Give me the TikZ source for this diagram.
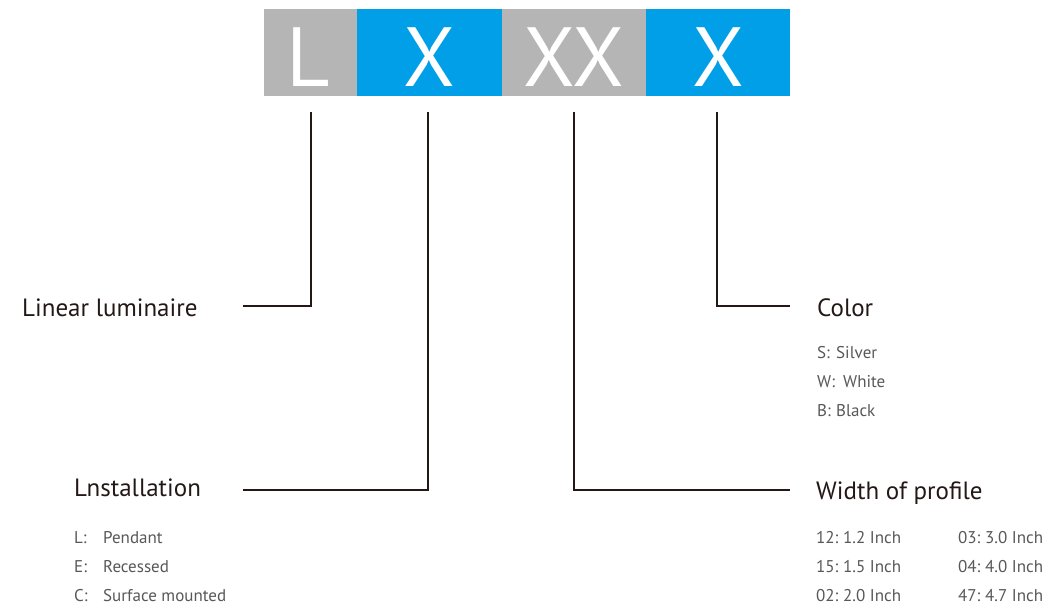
\documentclass[tikz,border=0pt]{standalone}
\usepackage{fontspec}
\setmainfont{PT Sans}
\definecolor{boxgray}{HTML}{B5B5B6}
\definecolor{boxblue}{HTML}{009FE8}
\definecolor{leaddark}{HTML}{231815}
\definecolor{itemgray}{HTML}{595757}
\newcommand{\itm}[3]{\makebox[#1][l]{#2}#3}
\begin{document}
\begin{tikzpicture}[x=1pt, y=-1pt,
  letter/.style={anchor=base, text=white, inner sep=0pt, font=\fontsize{84}{84}\selectfont},
  head/.style={anchor=base west, inner sep=0pt, text=leaddark, font=\fontsize{25}{30}\selectfont},
  item/.style={anchor=base west, inner sep=0pt, text=itemgray, font=\fontsize{17}{20}\selectfont},
  lead/.style={draw=leaddark, line width=1.8pt}]
\useasboundingbox (0,0) rectangle (1051,610);

% code boxes
\fill [boxgray] (264,9) rectangle (357,96);
\fill [boxblue] (357,9) rectangle (502,96);
\fill [boxgray] (502,9) rectangle (646,96);
\fill [boxblue] (646,9) rectangle (790,96);

\node [letter] (k1) at (308,86) {L};
\node [letter] (k2) at (429,86) {X};
\node [letter] (k3) at (574,86) {XX};
\node [letter] (k4) at (718,86) {X};

% headings
\node [head] (h1) at (22,316) {Linear luminaire};
\node [head] (h2) at (74,496) {Lnstallation};
\node [head] (h3) at (817,316) {Color};
\node [head] (h4) at (816,499) {Width of profile};

% items
\node [item] (s1) at (817,358) {\itm{19pt}{S:}{Silver}};
\node [item] (s2) at (817,387) {\itm{26pt}{W:}{White}};
\node [item] (s3) at (817,416) {\itm{19pt}{B:}{Black}};

\node [item] (i1) at (74,543) {\itm{29pt}{L:}{Pendant}};
\node [item] (i2) at (74,572) {\itm{29pt}{E:}{Recessed}};
\node [item] (i3) at (74,601) {\itm{29pt}{C:}{Surface mounted}};

\node [item] (w1) at (816,543) {\itm{27pt}{12:}{1.2 Inch}};
\node [item] (w2) at (816,572) {\itm{27pt}{15:}{1.5 Inch}};
\node [item] (w3) at (816,601) {\itm{27pt}{02:}{2.0 Inch}};
\node [item] (w4) at (958,543) {\itm{27pt}{03:}{3.0 Inch}};
\node [item] (w5) at (958,572) {\itm{27pt}{04:}{4.0 Inch}};
\node [item] (w6) at (958,601) {\itm{27pt}{47:}{4.7 Inch}};

% leader lines
\coordinate (a1) at (311,112);
\coordinate (a2) at (428,112);
\coordinate (a3) at (574,112);
\coordinate (a4) at (717,112);
\coordinate (b1) at (243,306);
\coordinate (b2) at (243,490);
\coordinate (b3) at (790,490);
\coordinate (b4) at (790,306);

\draw [lead] (a1) |- (b1);
\draw [lead] (a2) |- (b2);
\draw [lead] (a3) |- (b3);
\draw [lead] (a4) |- (b4);

\end{tikzpicture}
\end{document}
